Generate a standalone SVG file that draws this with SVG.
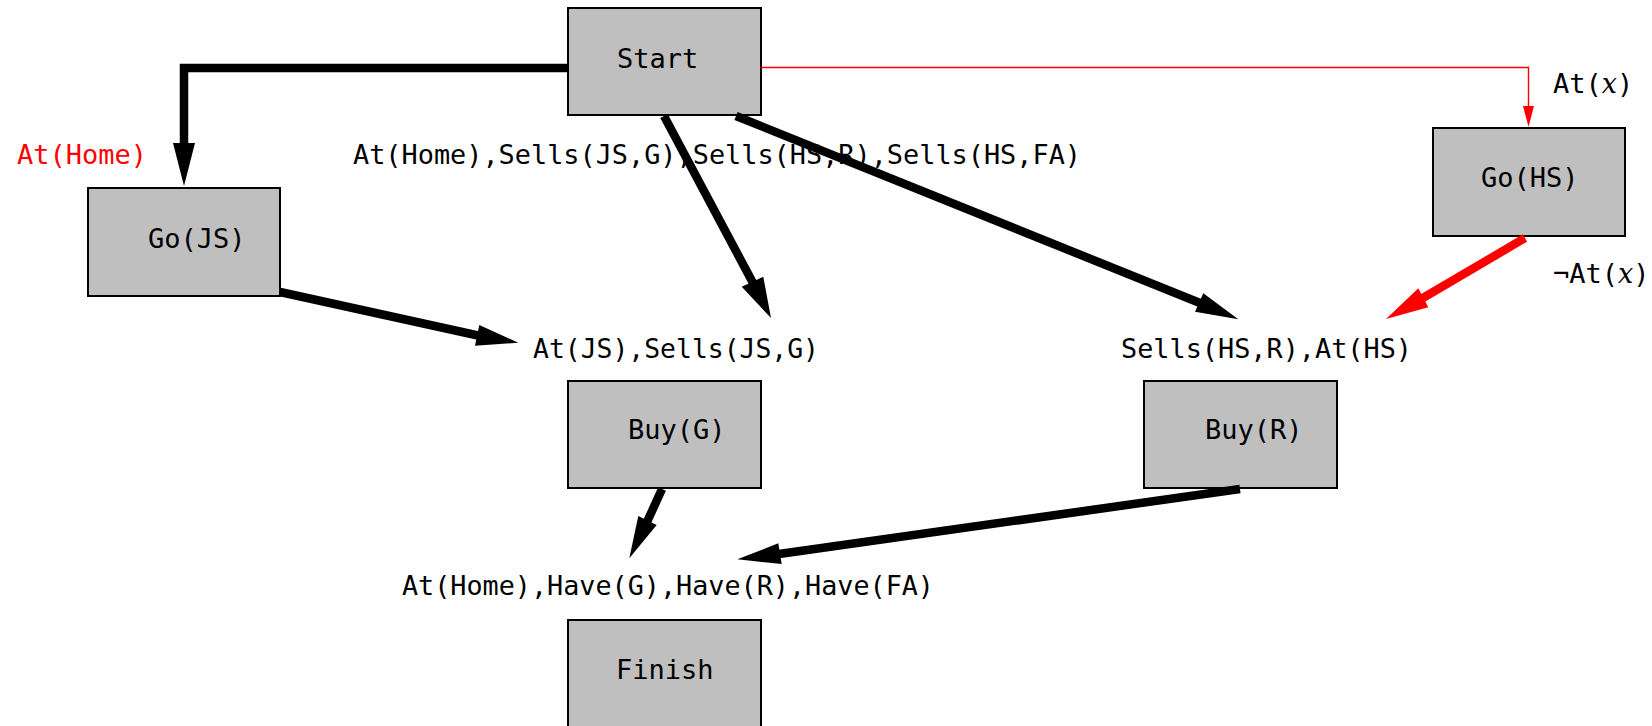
<svg xmlns="http://www.w3.org/2000/svg" width="1652" height="726" viewBox="0 0 1652 726">
<style>
.box{fill:#bfbfbf;stroke:#000;stroke-width:2}
text{font-family:"DejaVu Sans Mono","Liberation Mono",monospace;font-size:27px;fill:#000}
.red{fill:#ff0000}
.mi{font-family:"DejaVu Serif","Liberation Serif",serif;font-style:italic}
.thick{fill:none;stroke:#000;stroke-width:8.5}
.thickred{fill:none;stroke:#ff0000;stroke-width:8.5}
.thin{fill:none;stroke:#ff0000;stroke-width:1.4}
.ah{fill:#000}
.ahr{fill:#ff0000}
</style>
<rect width="1652" height="726" fill="#fff"/>
<g id="nodes">
<g id="start"><rect class="box" x="568" y="8" width="193" height="107"/><text x="617" y="68">Start</text></g>
<g id="gojs"><rect class="box" x="88" y="188" width="192" height="108"/><text x="148" y="248">Go(JS)</text></g>
<g id="gohs"><rect class="box" x="1433" y="128" width="192" height="108"/><text x="1481" y="187">Go(HS)</text></g>
<g id="buyg"><rect class="box" x="568" y="381" width="193" height="107"/><text x="628" y="439">Buy(G)</text></g>
<g id="buyr"><rect class="box" x="1144" y="381" width="193" height="107"/><text x="1205" y="439">Buy(R)</text></g>
<g id="finish"><rect class="box" x="568" y="620" width="193" height="108"/><text x="616" y="679">Finish</text></g>
</g>
<g id="labels">
<text class="red" x="17" y="164">At(Home)</text>
<text x="353" y="164" textLength="728" lengthAdjust="spacingAndGlyphs">At(Home),Sells(JS,G),Sells(HS,R),Sells(HS,FA)</text>
<text x="1553" y="93">At(<tspan class="mi">x</tspan>)</text>
<text x="1553" y="283">¬At(<tspan class="mi">x</tspan>)</text>
<text x="533" y="358" textLength="286" lengthAdjust="spacingAndGlyphs">At(JS),Sells(JS,G)</text>
<text x="1121" y="358" textLength="291" lengthAdjust="spacingAndGlyphs">Sells(HS,R),At(HS)</text>
<text x="402" y="595" textLength="532" lengthAdjust="spacingAndGlyphs">At(Home),Have(G),Have(R),Have(FA)</text>
</g>
<g id="connectors">
<path class="thick" d="M568 68 H184 V144"/>
<polygon class="ah" points="173,143 195,143 184,186"/>
<path class="thin" d="M761 67.5 H1528.5 V107"/>
<polygon class="ahr" points="1523,106 1534,106 1528.5,127"/>
<path class="thick" d="M664 116 L753 283"/>
<polygon class="ah" points="741.7,286.7 763.3,276.7 771,318"/>
<path class="thick" d="M736 116 L1200 303"/>
<polygon class="ah" points="1203.3,293.3 1195,311.7 1238.3,319.3"/>
<path class="thickred" d="M1525 238 L1422 298.5"/>
<polygon class="ahr" points="1418.3,288.3 1428.3,307.3 1386,319"/>
<path class="thick" d="M280 292 L478 335.5"/>
<polygon class="ah" points="479.3,325 475,345.7 518.3,342.7"/>
<path class="thick" d="M662 489 L647 522"/>
<polygon class="ah" points="638.3,516 656.7,525 629.3,558.3"/>
<path class="thick" d="M1240 489 L779 554"/>
<polygon class="ah" points="778.3,543.3 781.7,564 737.3,559.3"/>
</g>
</svg>
